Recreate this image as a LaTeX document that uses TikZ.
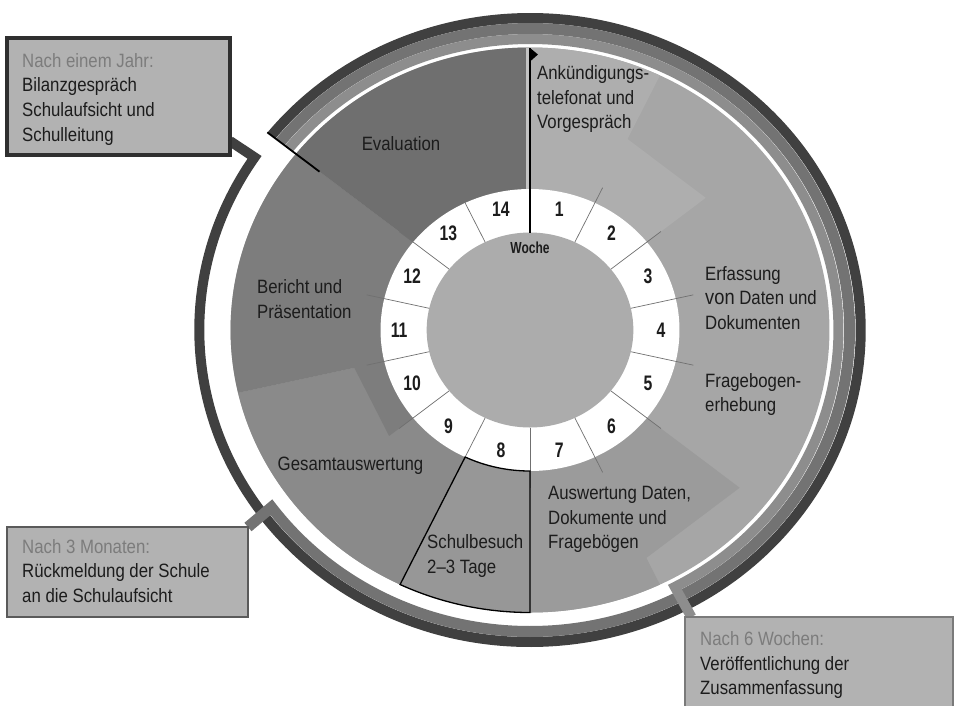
\documentclass[tikz,border=0pt]{standalone}
\usepackage{fontspec}
\setmainfont[FakeStretch=0.87]{Liberation Sans}
\newfontfamily\weekfont[FakeStretch=0.75]{Liberation Sans}

% phase colours of the wheel
\definecolor{secAnk}{HTML}{AEAEAE}
\definecolor{secErf}{HTML}{A6A6A6}
\definecolor{secAus}{HTML}{9B9B9B}
\definecolor{secSch}{HTML}{979797}
\definecolor{secGes}{HTML}{8A8A8A}
\definecolor{secBer}{HTML}{7D7D7D}
\definecolor{secEva}{HTML}{6F6F6F}
\definecolor{innerdisc}{HTML}{ACACAC}
\definecolor{tickc}{HTML}{707070}
\definecolor{strip}{HTML}{C4C4C4}
% outer follow-up bands and their boxes
\definecolor{bandL}{HTML}{8D8D8D}
\definecolor{bandM}{HTML}{737373}
\definecolor{bandD}{HTML}{404040}
\definecolor{boxfill}{HTML}{B2B2B2}
\definecolor{boxD}{HTML}{2F2F2F}
\definecolor{boxM}{HTML}{5A5A5A}
\definecolor{boxL}{HTML}{7A7A7A}
\definecolor{ink}{HTML}{1C1C1C}
\definecolor{headgray}{HTML}{7C7C7C}

\pgfdeclarelayer{bands}
\pgfsetlayers{bands,main}

% annular sector, clock angles #1..#2 (clockwise from top), radii #3..#4
\newcommand\ringsector[4]{({90-(#1)}:#4) arc[start angle={90-(#1)}, end angle={90-(#2)}, radius=#4] -- ({90-(#2)}:#3) arc[start angle={90-(#2)}, end angle={90-(#1)}, radius=#3] -- cycle}
% straight-edged partial sector, clock angles #1..#2, radii #3..#4
\newcommand\notchpoly[4]{({90-(#1)}:#3) -- ({90-(#1)}:#4) -- ({90-(#2)}:#4) -- ({90-(#2)}:#3) -- cycle}

\begin{document}
\begin{tikzpicture}[x=1pt, y=1pt,
  lbl/.style={anchor=north west, inner sep=0, align=left, text=ink, font=\fontsize{19.3}{24.6}\selectfont},
  lblc/.style={anchor=base, inner sep=0, text=ink, font=\fontsize{19.3}{24.6}\selectfont},
  weeknum/.style={inner sep=0, text=ink, font=\weekfont\bfseries\fontsize{21}{21}\selectfont},
  weeklabel/.style={inner sep=0, text=ink, font=\weekfont\bfseries\fontsize{16}{16}\selectfont},
  tickline/.style={draw=tickc, line width=0.7},
  noticebox/.style={draw, fill=boxfill, inner sep=0, outer sep=0, anchor=north west},
  bandline/.style={line width=#1, line join=miter, line cap=butt}
]
\useasboundingbox (0,0) rectangle (955,-705);

% ---------- notice boxes ----------
\node[noticebox, draw=boxD, line width=3.2, minimum width=223, minimum height=117] (box1) at (7,-38) {};
\node[noticebox, draw=boxM, line width=2.4, minimum width=241, minimum height=90] (box2) at (7,-527) {};
\node[noticebox, draw=boxL, line width=2, minimum width=268, minimum height=96] (box3) at (685,-617) {};

\node[lbl] (box1txt) at (22,-53.2) {\textcolor{headgray}{Nach einem Jahr:}\\Bilanzgespräch\\Schulaufsicht und\\Schulleitung};
\node[lbl] (box2txt) at (22,-539) {\textcolor{headgray}{Nach 3 Monaten:}\\Rückmeldung der Schule\\an die Schulaufsicht};
\node[lbl] (box3txt) at (700,-631.5) {\textcolor{headgray}{Nach 6 Wochen:}\\Veröffentlichung der\\Zusammenfassung};

% ---------- the wheel ----------
\begin{scope}[shift={(530,-330)}, xscale=1.06]
  % phases
  \fill[secErf] (0,0) circle[radius=282.5];
  \fill[secAnk] \ringsector{0}{25.714}{97}{282.5} \notchpoly{25.714}{51.429}{97}{212};
  \fill[secAus] \ringsector{154.286}{180}{97}{282.5} \notchpoly{128.571}{154.286}{97}{253};
  \fill[secSch] \ringsector{180}{205.714}{97}{282.5};
  \fill[secGes] \ringsector{205.714}{257.143}{97}{282.5};
  \fill[secBer] \ringsector{257.143}{308.571}{97}{282.5} \notchpoly{231.429}{257.143}{97}{170};
  \fill[secEva] \ringsector{308.571}{360}{97}{282.5};

  % week ring
  \fill[white] (0,0) circle[radius=141];
  \fill[innerdisc] (0,0) circle[radius=97.5];
  \foreach \k in {1,...,13}
    \draw[tickline] ({90-\k*360/14}:97.5) -- ({90-\k*360/14}:158);
  \foreach \k in {1,...,14}
    \node[weeknum] (wk\k) at ({90-(\k-0.5)*360/14}:123.5) {\k};
  \node[weeklabel] (woche) at (90:82) {Woche};

  % school visit week
  \draw[line width=1.3, line join=miter] \ringsector{180}{205.714}{141}{282.5};

  % start marker with flag
  \draw[strip, line width=2.5] (-2.4,141) -- (-2.4,282.5);
  \draw[line width=1.3] (90:97.5) -- (90:282.5);
  \fill (0,282) -- (7.5,275.5) -- (0,268.5) -- cycle;

  % one-year marker
  \draw[line width=1.8] (-218.571:254) -- (-218.571:317);
\end{scope}

% ---------- follow-up bands ----------
\begin{pgfonlayer}{bands}
\begin{scope}[shift={(530,-330)}, xscale=1.06]
  \draw[bandline=10, draw=bandD] (-218.571:312) arc[start angle=-218.571, end angle=-573.6, radius=312] -- ([yshift=14]box1.south east);
  \draw[bandline=11, draw=bandM] (-218.571:301.5) arc[start angle=-218.571, end angle=-504, radius=301.5] -- (box2.north east);
  \draw[bandline=10, draw=bandL] (-218.571:291) arc[start angle=-218.571, end angle=-422, radius=291] -- ([xshift=6]box3.north west);
\end{scope}
\end{pgfonlayer}

% ---------- phase labels ----------
\node[lbl] (ank) at (537,-65.5) {Ankündigungs-\\telefonat und\\Vorgespräch};
\node[lblc] (eva) at (401,-150) {Evaluation};
\node[lbl] (erf) at (705,-266) {Erfassung\\{\fontsize{21}{24.6}\selectfont von} Daten und\\Dokumenten};
\node[lbl] (frag) at (705,-373) {Fragebogen-\\erhebung};
\node[lbl] (ausw) at (548,-486) {Auswertung Daten,\\Dokumente und\\Fragebögen};
\node[lbl] (schul) at (427,-534.5) {Schulbesuch\\2–3 Tage};
\node[lblc] (ges) at (350.5,-470) {Gesamtauswertung};
\node[lbl] (ber) at (257,-279.5) {Bericht und\\Präsentation};
\end{tikzpicture}
\end{document}
